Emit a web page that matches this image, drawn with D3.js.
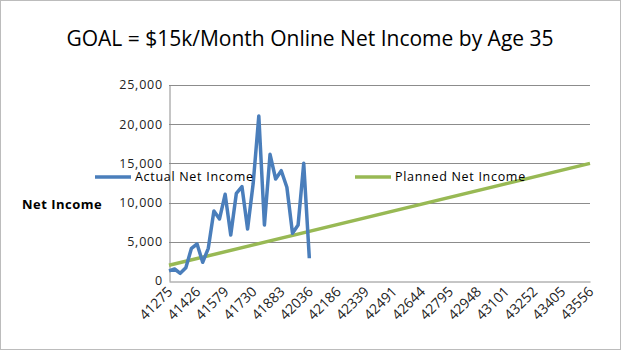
<!DOCTYPE html>
<html>
<head>
<meta charset="utf-8">
<script src="https://cdn.jsdelivr.net/npm/d3@7"></script>
<style>
  html, body { margin: 0; padding: 0; background: #fff; }
  svg { display: block; font-family: "Open Sans", sans-serif; }
</style>
</head>
<body>
<div id="chart"></div>
<script>
// Month serials (Excel date numbers), Jan 2013 .. Apr 2019, labelled every 5 months
const tickLabels = ['41275', '41426', '41579', '41730', '41883', '42036', '42186', '42339',
  '42491', '42644', '42795', '42948', '43101', '43252', '43405', '43556'];
const monthCount = 76;

// Actual monthly net income, months 0..25
const actualIncome = [1300, 1530, 980, 1700, 4170, 4720, 2390, 4170, 8930, 7910, 11060, 5870, 11190,
  12030, 6630, 12460, 21050, 7140, 16160, 13010, 14070, 11950, 6080, 7140, 15010, 2900];

// Planned net income: straight line from first month to last month
const plannedMonths = [0, 75];
const plannedIncome = [2000, 15000];

const yTicks = [0, 5000, 10000, 15000, 20000, 25000];

const width = 623, height = 354;
const margin = { top: 85, right: 33, bottom: 73, left: 169 };
const innerWidth = width - margin.left - margin.right;
const innerHeight = height - margin.top - margin.bottom;

const svg = d3.select('#chart').append('svg').attr('width', width).attr('height', height);

// chart area border
svg.append('rect').attr('x', 0.5).attr('y', 0.5).attr('width', width - 3).attr('height', height - 5)
  .attr('fill', '#fff').attr('stroke', '#bcbcbc');

svg.append('text')
  .attr('x', 310).attr('y', 46).attr('text-anchor', 'middle')
  .attr('font-size', 21).attr('fill', '#000')
  .text('GOAL = $15k/Month Online Net Income by Age 35');

const g = svg.append('g').attr('transform', `translate(${margin.left},${margin.top})`);
const x = d3.scaleLinear().domain([0, monthCount - 1]).range([0, innerWidth]);
const y = d3.scaleLinear().domain([0, 25000]).range([innerHeight, 0]);
const xTickMonths = d3.range(0, monthCount, 5);

// gridlines
g.append('g').selectAll('line').data(yTicks.slice(1)).join('line')
  .attr('x1', 0).attr('x2', innerWidth)
  .attr('y1', (d) => Math.round(y(d)) + 0.5).attr('y2', (d) => Math.round(y(d)) + 0.5)
  .attr('stroke', '#8c8c8c');

// axis lines
g.append('g').attr('transform', 'translate(0.5,0)')
  .call(d3.axisLeft(y).tickValues(yTicks).tickSize(0).tickFormat(''))
  .select('.domain').attr('stroke', '#8c8c8c');
g.append('g').attr('transform', `translate(0,${innerHeight + 0.5})`)
  .call(d3.axisBottom(x).tickValues(xTickMonths).tickSize(0).tickFormat(''))
  .select('.domain').attr('stroke', '#8c8c8c');

// y tick labels
g.append('g').selectAll('text').data(yTicks).join('text')
  .attr('x', -6).attr('y', (d) => y(d)).attr('dy', '0.35em')
  .attr('text-anchor', 'end').attr('font-size', 12.5).attr('letter-spacing', 0.8).attr('fill', '#222')
  .text(d3.format(','));

// x tick labels, rotated
g.append('g').selectAll('text').data(xTickMonths).join('text')
  .attr('transform', (d) => `translate(${x(d) + 1},${innerHeight + 8}) rotate(-45)`)
  .attr('dy', '0.35em').attr('text-anchor', 'end')
  .attr('font-size', 14).attr('fill', '#222')
  .text((d, i) => tickLabels[i]);

// planned line
const planned = plannedMonths.map((m, i) => [m, plannedIncome[i]]);
g.append('path')
  .attr('d', d3.line().x((d) => x(d[0])).y((d) => y(d[1]))(planned))
  .attr('fill', 'none').attr('stroke', '#98b954').attr('stroke-width', 3.5);

// actual line
g.append('path')
  .attr('d', d3.line().x((d, i) => x(i)).y((d) => y(d))(actualIncome))
  .attr('fill', 'none').attr('stroke', '#4a7ebb').attr('stroke-width', 3.5)
  .attr('stroke-linejoin', 'round');

// y title
svg.append('text').attr('x', 22).attr('y', 209)
  .attr('font-size', 13).attr('font-weight', 'bold').attr('letter-spacing', 0.5).attr('fill', '#000')
  .text('Net Income');

// legend
const legend = [
  { name: 'Actual Net Income', color: '#4a7ebb', x: 95 },
  { name: 'Planned Net Income', color: '#98b954', x: 355 },
];
const lg = svg.append('g').selectAll('g').data(legend).join('g')
  .attr('transform', (d) => `translate(${d.x},177)`);
lg.append('line').attr('x1', 0).attr('x2', 36).attr('y1', 0).attr('y2', 0)
  .attr('stroke', (d) => d.color).attr('stroke-width', 3.5);
lg.append('text').attr('x', 40).attr('dy', '0.35em')
  .attr('font-size', 12.5).attr('letter-spacing', 0.7).attr('fill', '#000')
  .text((d) => d.name);
</script>
</body>
</html>
